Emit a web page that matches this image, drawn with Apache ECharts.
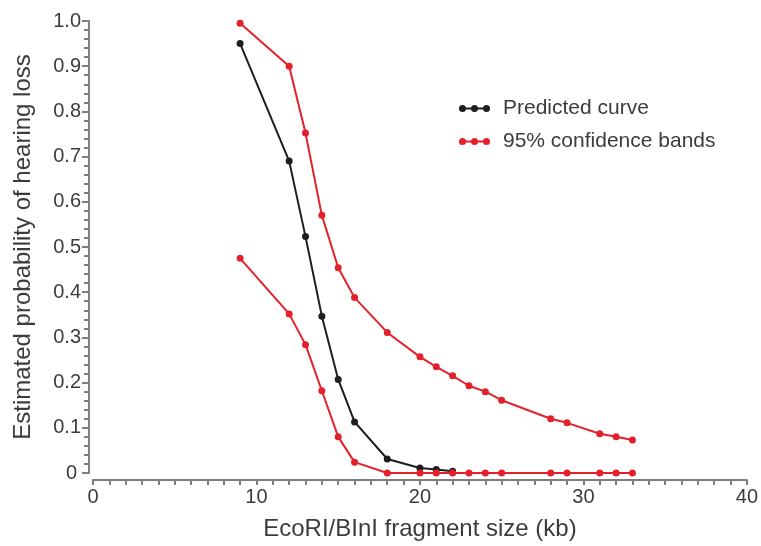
<!DOCTYPE html>
<html>
<head>
<meta charset="utf-8">
<script src="https://cdn.jsdelivr.net/npm/echarts@6/dist/echarts.min.js"></script>
<style>html,body{margin:0;padding:0;background:#fff}#c{width:761px;height:546px}</style>
</head>
<body>
<div id="c"></div>
<script>
// Data
var predX = [9, 12, 13, 14, 15, 16, 18, 20, 21, 22];
var predY = [0.95, 0.69, 0.523, 0.347, 0.207, 0.113, 0.031, 0.011, 0.008, 0.004];
var bandX = [9, 12, 13, 14, 15, 16, 18, 20, 21, 22, 23, 24, 25, 28, 29, 31, 32, 33];
var upperY = [0.995, 0.900, 0.752, 0.570, 0.454, 0.388, 0.311, 0.257, 0.235, 0.215, 0.193, 0.180, 0.161, 0.120, 0.111, 0.087, 0.080, 0.073];
var lowerY = [0.475, 0.352, 0.284, 0.182, 0.080, 0.024, 0, 0, 0, 0, 0, 0, 0, 0, 0, 0, 0, 0];
var yTickLabels = ['0', '0.1', '0.2', '0.3', '0.4', '0.5', '0.6', '0.7', '0.8', '0.9', '1.0'];
var xTickLabels = ['0', '10', '20', '30', '40'];
var seriesNames = ['Predicted curve', '95% confidence bands'];

function pairs(xs, ys) { return xs.map(function (x, i) { return [x, ys[i]]; }); }

var FONT = 'Liberation Sans, Arial, Helvetica, sans-serif';
var AXIS = '#7f7f7f';
var TXT = '#3c3c3c';
var BLACK = '#1e1e1e';
var RED = '#e4212b';
var legendIcon = 'path://M0,2.5H31V4.5H0Z M0,3.5a3.5,3.5 0 1,1 7,0a3.5,3.5 0 1,1 -7,0Z M12,3.5a3.5,3.5 0 1,1 7,0a3.5,3.5 0 1,1 -7,0Z M24,3.5a3.5,3.5 0 1,1 7,0a3.5,3.5 0 1,1 -7,0Z';

var chart = echarts.init(document.getElementById('c'), null, {renderer: 'canvas'});
chart.setOption({
  animation: false,
  textStyle: {fontFamily: FONT},
  grid: {left: 93, right: 13, top: 21, bottom: 70, containLabel: false},
  legend: {
    orient: 'vertical', left: 454, top: 93,
    itemWidth: 31, itemHeight: 7, itemGap: 12,
    icon: legendIcon,
    data: seriesNames,
    textStyle: {fontSize: 21, color: TXT, fontFamily: FONT, padding: [0, 0, 0, 8], lineHeight: 21}
  },
  xAxis: {
    type: 'value', min: 0, max: 40, interval: 10, offset: 7,
    name: 'EcoRI/BInI fragment size (kb)', nameLocation: 'middle', nameGap: 37,
    nameTextStyle: {fontSize: 24, color: TXT, fontFamily: FONT},
    axisLine: {show: true, onZero: false, lineStyle: {color: AXIS, width: 2}},
    axisTick: {show: true, length: 5, lineStyle: {color: AXIS, width: 2}},
    minorTick: {show: true, splitNumber: 10, length: 5, lineStyle: {color: AXIS, width: 2}},
    axisLabel: {fontSize: 20, color: TXT, margin: 7, fontFamily: FONT,
      formatter: function (v) { return xTickLabels[Math.round(v / 10)]; }},
    splitLine: {show: false}
  },
  yAxis: {
    type: 'value', min: 0, max: 1, interval: 0.1, offset: 4,
    name: 'Estimated probability of hearing loss', nameLocation: 'middle', nameGap: 54,
    nameTextStyle: {fontSize: 24, color: TXT, fontFamily: FONT},
    axisLine: {show: true, onZero: false, lineStyle: {color: AXIS, width: 2}},
    axisTick: {show: true, length: 7, lineStyle: {color: AXIS, width: 2}},
    minorTick: {show: true, splitNumber: 5, length: 5, lineStyle: {color: AXIS, width: 2}},
    axisLabel: {fontSize: 20, color: TXT, margin: 8, fontFamily: FONT,
      formatter: function (v) {
        var i = Math.round(v * 10);
        return i === 0 ? '{z|' + yTickLabels[i] + '}' : yTickLabels[i];
      },
      rich: {z: {fontSize: 20, color: TXT, fontFamily: FONT, padding: [0, 4, 0, 0]}}},
    splitLine: {show: false}
  },
  series: [
    {name: seriesNames[1], type: 'line', data: pairs(bandX, upperY), symbol: 'circle', symbolSize: 7,
      lineStyle: {color: RED, width: 2}, itemStyle: {color: RED}, z: 2},
    {name: seriesNames[1], type: 'line', data: pairs(bandX, lowerY), symbol: 'circle', symbolSize: 7,
      lineStyle: {color: RED, width: 2}, itemStyle: {color: RED}, z: 3},
    {name: seriesNames[0], type: 'line', data: pairs(predX, predY), symbol: 'circle', symbolSize: 7,
      lineStyle: {color: BLACK, width: 2}, itemStyle: {color: BLACK}, z: 2}
  ]
});
</script>
</body>
</html>
